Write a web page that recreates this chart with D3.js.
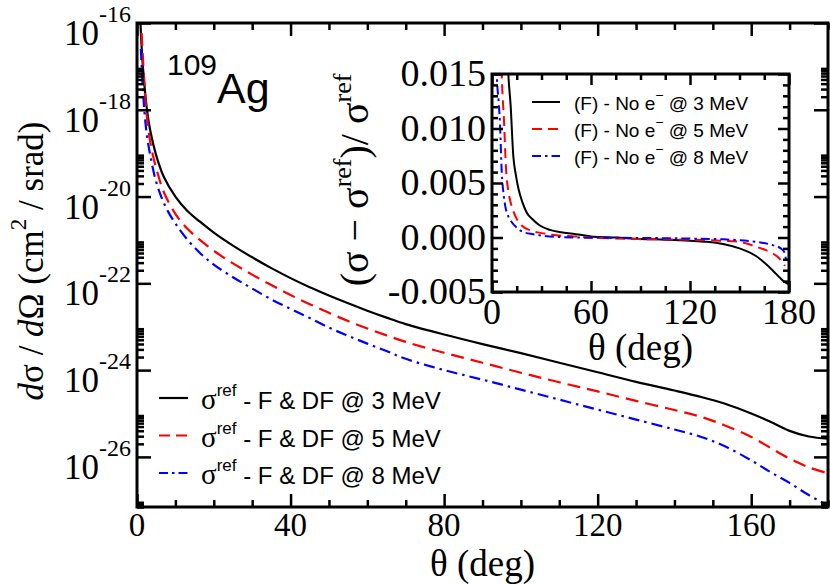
<!DOCTYPE html>
<html>
<head>
<meta charset="utf-8">
<script src="https://cdnjs.cloudflare.com/ajax/libs/d3/7.8.5/d3.min.js"></script>
<style>
  body { margin: 0; background: #fff; }
  .ax path.domain { display: none; }
  .ax line { stroke: #000; stroke-width: 2.5; }
</style>
</head>
<body>
<svg id="chart" width="830" height="585"></svg>
<script>
// ---- main panel: theta (deg) and log10(dsigma/dOmega)
var th3 = [0.7, 0.9, 1.3, 1.8, 2.6, 3.5, 5, 7, 10, 13, 16.4, 20, 25, 30, 35, 40, 45, 50, 55, 60, 65, 70, 80, 90, 100, 110, 120, 130, 140, 147, 153, 160, 165, 170, 175, 180];
var lg3 = [-15.6, -16.0, -16.7, -17.3, -18.0, -18.5, -19.05, -19.55, -20.0, -20.32, -20.58, -20.83, -21.13, -21.4, -21.65, -21.88, -22.09, -22.28, -22.46, -22.63, -22.79, -22.94, -23.18, -23.4, -23.61, -23.83, -24.05, -24.27, -24.47, -24.62, -24.77, -25.0, -25.19, -25.4, -25.53, -25.58];

var th5 = [1.2, 1.6, 2.4, 3.2, 4.2, 5.5, 7, 10, 13, 16.4, 20, 25, 30, 35, 40, 45, 50, 55, 60, 65, 70, 80, 90, 100, 110, 120, 130, 140, 147, 153, 160, 165, 170, 175, 180];
var lg5 = [-16.23, -16.9, -18.0, -18.6, -19.07, -19.5, -19.9, -20.4, -20.73, -21.0, -21.25, -21.54, -21.8, -22.04, -22.27, -22.48, -22.68, -22.87, -23.04, -23.2, -23.35, -23.6, -23.83, -24.06, -24.28, -24.49, -24.71, -24.92, -25.08, -25.27, -25.54, -25.79, -26.04, -26.24, -26.38];

var th8 = [1.0, 1.4, 1.9, 2.6, 3.5, 4.8, 6.3, 8, 10, 13, 16.4, 20, 25, 30, 35, 40, 45, 50, 55, 60, 65, 70, 80, 90, 100, 110, 120, 130, 140, 147, 153, 160, 165, 170, 175, 180];
var lg8 = [-16.6, -17.3, -18.0, -18.6, -19.07, -19.6, -20.0, -20.33, -20.62, -20.98, -21.3, -21.57, -21.86, -22.12, -22.37, -22.59, -22.8, -23.02, -23.21, -23.39, -23.56, -23.74, -24.0, -24.22, -24.45, -24.68, -24.91, -25.14, -25.37, -25.54, -25.75, -26.08, -26.35, -26.6, -26.88, -27.12];

// ---- inset: relative difference (sigma - sigma_ref)/sigma_ref
var thI3 = [9.0, 9.9, 11.3, 12.9, 14.5, 16, 18.5, 21, 25, 29, 35, 42, 49, 60, 75, 90, 105, 120, 130, 140, 150, 155, 160, 165, 170, 174.5, 177.5, 180];
var rdI3 = [0.0185, 0.015, 0.0121, 0.0075, 0.0057, 0.0045, 0.0032, 0.0023, 0.0016, 0.0011, 0.0007, 0.00048, 0.00035, 0.0001, 0.0, -0.00013, -0.0002, -0.0003, -0.0004, -0.0006, -0.001, -0.0013, -0.0017, -0.0023, -0.003, -0.0037, -0.0041, -0.0043];

var thI5 = [5.5, 5.9, 7.3, 8.5, 10, 11, 13, 15, 18, 23, 30, 39, 50, 60, 90, 120, 140, 150, 160, 165, 170, 174, 177.5];
var rdI5 = [0.017, 0.0149, 0.0106, 0.0063, 0.0042, 0.0034, 0.0024, 0.0017, 0.0011, 0.00066, 0.0004, 0.0002, 0.0001, 0.0, -0.00015, -0.0002, -0.0003, -0.0004, -0.00084, -0.0011, -0.00145, -0.0019, -0.0026];

var thI8 = [2.5, 2.9, 4.0, 4.8, 5.9, 7, 7.9, 10, 12, 15, 19, 25, 39, 60, 90, 120, 140, 160, 170, 175, 177, 178.5, 179.2];
var rdI8 = [0.0175, 0.015, 0.0125, 0.0106, 0.006, 0.004, 0.003, 0.0019, 0.0014, 0.0009, 0.0005, 0.0003, 0.00005, -0.00002, -0.00004, -0.0001, -0.00017, -0.0004, -0.0007, -0.001, -0.0013, -0.0021, -0.0022];

// ---- tick labels
var mainXTicks = [0, 40, 80, 120, 160];
var mainYExp = [-16, -18, -20, -22, -24, -26];
var insetXTicks = [0, 60, 120, 180];
var insetYTicks = [-0.005, 0, 0.005, 0.010, 0.015];
var insetYLabels = ["-0.005", "0.000", "0.005", "0.010", "0.015"];

var mainLegend = ["3", "5", "8"];
var insetLegend = ["3", "5", "8"];

var colors = ["#000000", "#ff0000", "#0000ff"];
var dashes = [null, "13,7", "11,5,2.5,5"];

var serif = "'Liberation Serif','Times New Roman',serif";
var sans = "'Liberation Sans',Arial,Helvetica,sans-serif";

var svg = d3.select("#chart");

function zip(a, b) {
    var out = [];
    for (var i = 0; i < a.length; i++) out.push([a[i], b[i]]);
    return out;
}

// draw inward ticks with d3 axes (labels are drawn by hand)
function ticks(axisFn, scale, values, size, tx, ty) {
    var ax = axisFn(scale).tickValues(values).tickSize(-size).tickFormat("");
    svg.append("g")
        .attr("class", "ax")
        .attr("transform", "translate(" + tx + "," + ty + ")")
        .call(ax);
}

// ================= main panel =================
var L = 137, R = 828, T = 23, B = 507;
var x = d3.scaleLinear().domain([0, 180]).range([L, R]);
var y = d3.scaleLog().domain([7e-28, 1e-16]).range([B, T]);

svg.append("clipPath").attr("id", "clipMain")
    .append("rect").attr("x", L).attr("y", T).attr("width", R - L).attr("height", B - T);

var line = d3.line()
    .x(function(d) { return x(d[0]); })
    .y(function(d) { return y(Math.pow(10, d[1])); })
    .curve(d3.curveCatmullRom.alpha(0.5));

var mainSeries = [zip(th3, lg3), zip(th5, lg5), zip(th8, lg8)];
for (var i = 0; i < mainSeries.length; i++) {
    svg.append("path")
        .datum(mainSeries[i])
        .attr("clip-path", "url(#clipMain)")
        .attr("fill", "none")
        .attr("stroke", colors[i])
        .attr("stroke-width", 2.2)
        .attr("stroke-dasharray", dashes[i])
        .attr("d", line);
}

// ticks
var xMinor = d3.range(0, 181, 10).filter(function(v) { return v % 40 != 0; });
var yMajor = mainYExp.map(function(e) { return Math.pow(10, e); });
var yMinor = [];
for (var e = -28; e <= -18; e += 2) {
    for (var k = 2; k <= 9; k++) {
        var v = k * Math.pow(10, e);
        if (v >= 6.99e-28 && v <= 1e-16) yMinor.push(v);
    }
}
ticks(d3.axisBottom, x, mainXTicks, 13, 0, B);
ticks(d3.axisBottom, x, xMinor, 7, 0, B);
ticks(d3.axisTop, x, mainXTicks, 13, 0, T);
ticks(d3.axisTop, x, xMinor, 7, 0, T);
ticks(d3.axisLeft, y, yMajor, 14, L, 0);
ticks(d3.axisLeft, y, yMinor, 7, L, 0);
ticks(d3.axisRight, y, yMajor, 14, R, 0);
ticks(d3.axisRight, y, yMinor, 7, R, 0);

svg.append("rect")
    .attr("x", L).attr("y", T).attr("width", R - L).attr("height", B - T)
    .attr("fill", "none").attr("stroke", "#000").attr("stroke-width", 3);

// tick labels
svg.selectAll(".xlab").data(mainXTicks).enter().append("text")
    .attr("x", function(d) { return x(d); })
    .attr("y", 536)
    .attr("text-anchor", "middle")
    .style("font-family", serif).style("font-size", "33px")
    .text(function(d) { return d; });

mainYExp.forEach(function(e) {
    var t = svg.append("text")
        .attr("x", 131)
        .attr("y", y(Math.pow(10, e)) + 22)
        .attr("text-anchor", "end")
        .style("font-family", serif);
    t.append("tspan").style("font-size", "35px").text("10");
    t.append("tspan").attr("dy", -23).style("font-size", "24px").text(e);
});

// axis titles
svg.append("text")
    .attr("x", (L + R) / 2).attr("y", 576)
    .attr("text-anchor", "middle")
    .style("font-family", serif).style("font-size", "37px")
    .text("\u03b8 (deg)");

var yt = svg.append("text")
    .attr("transform", "translate(43," + ((T + B) / 2 - 4) + ") rotate(-90)")
    .attr("text-anchor", "middle")
    .style("font-family", serif).style("font-size", "35px");
yt.append("tspan").style("font-style", "italic").text("d");
yt.append("tspan").text("\u03c3 / ");
yt.append("tspan").style("font-style", "italic").text("d");
yt.append("tspan").text("\u03a9 (cm");
yt.append("tspan").attr("dy", -17).style("font-size", "23px").text("2");
yt.append("tspan").attr("dy", 17).text(" / srad)");

// nucleus label
var nuc = svg.append("text").attr("x", 167).attr("y", 103).style("font-family", sans);
nuc.append("tspan").attr("dy", -28).style("font-size", "30px").text("109");
nuc.append("tspan").attr("dy", 28).style("font-size", "43px").text("Ag");

// main legend
mainLegend.forEach(function(mev, i) {
    var ly = 398 + i * 37.5;
    svg.append("line")
        .attr("x1", 159).attr("x2", 188).attr("y1", ly).attr("y2", ly)
        .attr("stroke", colors[i]).attr("stroke-width", 2.2)
        .attr("stroke-dasharray", i == 0 ? null : (i == 1 ? "11,6" : "9,4,2.5,4"));
    var t = svg.append("text").attr("x", 201).attr("y", ly + 11).style("font-family", sans).style("font-size", "24px");
    t.append("tspan").style("font-family", serif).style("font-size", "29px").text("\u03c3");
    t.append("tspan").attr("dy", -13).style("font-size", "17px").text("ref");
    t.append("tspan").attr("dy", 13).text(" - F & DF @ " + mev + " MeV");
});

// ================= inset =================
var iL = 492, iR = 789, iT = 74, iB = 292;
var xi = d3.scaleLinear().domain([0, 180]).range([iL, iR]);
var yi = d3.scaleLinear().domain([-0.005, 0.015]).range([iB, iT]);

svg.append("rect").attr("x", iL).attr("y", iT).attr("width", iR - iL).attr("height", iB - iT).attr("fill", "#fff");

svg.append("clipPath").attr("id", "clipInset")
    .append("rect").attr("x", iL).attr("y", iT).attr("width", iR - iL).attr("height", iB - iT);

var lineI = d3.line()
    .x(function(d) { return xi(d[0]); })
    .y(function(d) { return yi(d[1]); })
    .curve(d3.curveMonotoneX);

var insetSeries = [zip(thI3, rdI3), zip(thI5, rdI5), zip(thI8, rdI8)];
for (var j = 0; j < insetSeries.length; j++) {
    svg.append("path")
        .datum(insetSeries[j])
        .attr("clip-path", "url(#clipInset)")
        .attr("fill", "none")
        .attr("stroke", colors[j])
        .attr("stroke-width", 2)
        .attr("stroke-dasharray", j == 0 ? null : (j == 1 ? "10,6" : "9,4,2.5,4"))
        .attr("d", lineI);
}

var xiMinor = d3.range(0, 181, 15).filter(function(v) { return v % 60 != 0; });
var yiMinor = d3.range(-5, 16, 1).filter(function(v) { return v % 5 != 0; }).map(function(v) { return v / 1000; });
ticks(d3.axisBottom, xi, insetXTicks, 11, 0, iB);
ticks(d3.axisBottom, xi, xiMinor, 6, 0, iB);
ticks(d3.axisTop, xi, insetXTicks, 11, 0, iT);
ticks(d3.axisTop, xi, xiMinor, 6, 0, iT);
ticks(d3.axisLeft, yi, insetYTicks, 11, iL, 0);
ticks(d3.axisLeft, yi, yiMinor, 6, iL, 0);
ticks(d3.axisRight, yi, insetYTicks, 11, iR, 0);
ticks(d3.axisRight, yi, yiMinor, 6, iR, 0);

svg.append("rect")
    .attr("x", iL).attr("y", iT).attr("width", iR - iL).attr("height", iB - iT)
    .attr("fill", "none").attr("stroke", "#000").attr("stroke-width", 3);

svg.selectAll(".xilab").data(insetXTicks).enter().append("text")
    .attr("x", function(d) { return xi(d); })
    .attr("y", 324)
    .attr("text-anchor", "middle")
    .style("font-family", serif).style("font-size", "36px")
    .text(function(d) { return d; });

svg.selectAll(".yilab").data(insetYTicks).enter().append("text")
    .attr("x", 486)
    .attr("y", function(d) { return yi(d) + 12; })
    .attr("text-anchor", "end")
    .style("font-family", serif).style("font-size", "38px")
    .text(function(d, i) { return insetYLabels[i]; });

svg.append("text")
    .attr("x", (iL + iR) / 2).attr("y", 360)
    .attr("text-anchor", "middle")
    .style("font-family", serif).style("font-size", "37px")
    .text("\u03b8 (deg)");

var yit = svg.append("text")
    .attr("transform", "translate(368,180) rotate(-90)")
    .attr("text-anchor", "middle")
    .style("font-family", serif).style("font-size", "40px");
yit.append("tspan").text("(\u03c3 \u2212 \u03c3");
yit.append("tspan").attr("dy", -17).style("font-size", "26px").text("ref");
yit.append("tspan").attr("dy", 17).text(")/ \u03c3");
yit.append("tspan").attr("dy", -17).style("font-size", "26px").text("ref");

insetLegend.forEach(function(mev, i) {
    var ly = 102 + i * 27;
    svg.append("line")
        .attr("x1", 532).attr("x2", 560).attr("y1", ly).attr("y2", ly)
        .attr("stroke", colors[i]).attr("stroke-width", 2)
        .attr("stroke-dasharray", i == 0 ? null : (i == 1 ? "10,6" : "9,4,2.5,4"));
    var t = svg.append("text").attr("x", 574).attr("y", ly + 8).style("font-family", sans).style("font-size", "19px");
    t.append("tspan").text("(F) - No e");
    t.append("tspan").attr("dy", -10).style("font-size", "14px").text("\u2212");
    t.append("tspan").attr("dy", 10).text(" @ " + mev + " MeV");
});
</script>
</body>
</html>
